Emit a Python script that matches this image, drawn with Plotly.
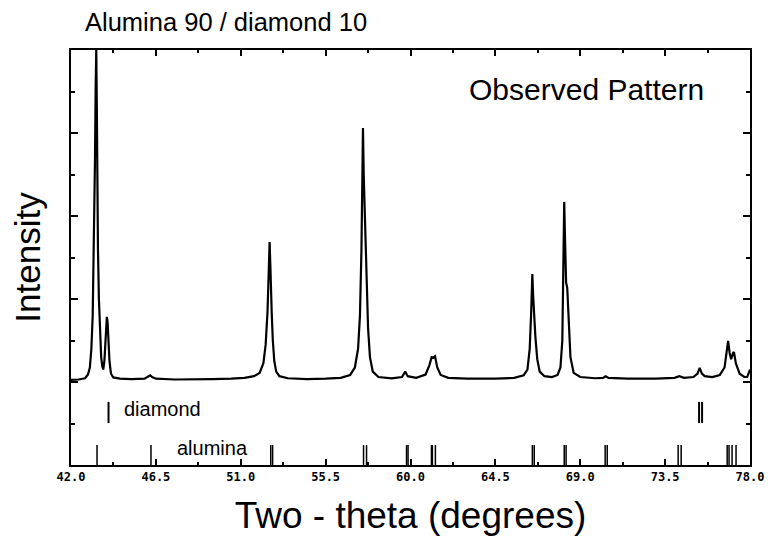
import plotly.graph_objects as go

# Observed XRD profile (2-theta in degrees, intensity in arbitrary units)
two_theta = [42.00, 42.40, 42.75, 42.90, 43.00, 43.08, 43.15, 43.21, 43.27, 43.31, 43.34,
             43.37, 43.39, 43.43, 43.48, 43.54, 43.60, 43.66, 43.71, 43.77, 43.84, 43.90,
             43.94, 43.98, 44.04, 44.12, 44.24, 44.60, 45.20, 45.90, 46.10, 46.20, 46.30,
             46.50, 47.50, 48.50, 49.50, 50.50, 51.20, 51.70, 52.00, 52.20, 52.32, 52.42,
             52.48, 52.53, 52.57, 52.60, 52.64, 52.70, 52.78, 52.88, 53.05, 53.50, 54.50,
             55.50, 56.30, 56.80, 57.05, 57.22, 57.32, 57.40, 57.45, 57.48, 57.52, 57.58,
             57.63, 57.68, 57.75, 57.85, 58.00, 58.30, 59.00, 59.55, 59.72, 59.85, 60.30,
             60.80, 61.00, 61.12, 61.20, 61.30, 61.42, 61.60, 62.00, 63.00, 64.50, 65.50,
             66.00, 66.20, 66.32, 66.40, 66.46, 66.50, 66.55, 66.62, 66.72, 66.85, 67.10,
             67.50, 67.80, 67.95, 68.05, 68.11, 68.15, 68.19, 68.25, 68.31, 68.38, 68.48,
             68.65, 69.00, 69.80, 70.20, 70.35, 70.50, 71.50, 73.00, 74.00, 74.25, 74.50,
             75.00, 75.22, 75.33, 75.45, 75.60, 76.00, 76.40, 76.65, 76.78, 76.84, 76.92,
             77.00, 77.10, 77.15, 77.25, 77.45, 77.70, 77.85, 78.00]
intensity = [2.05, 2.06, 2.09, 2.18, 2.35, 2.80, 3.60, 5.00, 7.30, 9.20, 10.00,
             8.60, 6.60, 5.20, 4.00, 3.10, 2.60, 2.38, 2.30, 2.50, 3.10, 3.57,
             3.45, 3.00, 2.50, 2.20, 2.11, 2.08, 2.07, 2.08, 2.13, 2.16, 2.12,
             2.08, 2.06, 2.06, 2.07, 2.08, 2.10, 2.14, 2.22, 2.45, 2.90, 3.70,
             4.60, 5.37, 4.80, 4.00, 3.70, 3.00, 2.50, 2.25, 2.14, 2.09, 2.07,
             2.08, 2.10, 2.17, 2.35, 2.80, 3.60, 5.20, 7.20, 8.12, 7.00, 5.90,
             5.60, 4.50, 3.30, 2.60, 2.25, 2.12, 2.09, 2.12, 2.25, 2.14, 2.10,
             2.18, 2.40, 2.60, 2.58, 2.62, 2.35, 2.17, 2.10, 2.08, 2.08, 2.10,
             2.16, 2.30, 2.80, 3.70, 4.60, 4.10, 3.55, 3.10, 2.55, 2.25, 2.14,
             2.12, 2.17, 2.35, 3.00, 4.50, 6.34, 5.50, 4.40, 4.27, 3.50, 2.60,
             2.22, 2.12, 2.09, 2.10, 2.14, 2.10, 2.08, 2.08, 2.10, 2.14, 2.10,
             2.12, 2.20, 2.34, 2.20, 2.14, 2.12, 2.17, 2.35, 2.80, 2.99, 2.70,
             2.55, 2.70, 2.72, 2.45, 2.20, 2.12, 2.12, 2.30]

# Reflection positions (2-theta)
diamond_pos = [43.99, 75.30, 75.46]
alumina_pos = [43.38, 46.24, 52.59, 52.69, 57.51, 57.67, 59.79, 59.87, 61.11, 61.16,
               61.32, 66.46, 66.56, 68.15, 68.25, 70.32, 70.43, 74.19, 74.35, 76.79,
               76.89, 77.05, 77.26]
diamond_span = [1.01, 1.52]
alumina_span = [0.0, 0.48]

x_ticks = [42.0, 46.5, 51.0, 55.5, 60.0, 64.5, 69.0, 73.5, 78.0]


def segments(positions, span):
    xs, ys = [], []
    for p in positions:
        xs += [p, p, None]
        ys += [span[0], span[1], None]
    return xs, ys


fig = go.Figure()
fig.add_trace(go.Scatter(x=two_theta, y=intensity, mode="lines",
                         line=dict(color="black", width=2.2), hoverinfo="skip"))
dx, dy = segments(diamond_pos, diamond_span)
fig.add_trace(go.Scatter(x=dx, y=dy, mode="lines", line=dict(color="black", width=2)))
ax, ay = segments(alumina_pos, alumina_span)
fig.add_trace(go.Scatter(x=ax, y=ay, mode="lines", line=dict(color="black", width=1.5)))

font_main = "Liberation Sans, Arial, sans-serif"

fig.update_layout(
    width=771, height=543,
    margin=dict(l=71, r=21, t=50, b=78),
    paper_bgcolor="white", plot_bgcolor="white",
    showlegend=False,
    xaxis=dict(range=[42, 78], tickvals=x_ticks,
               ticktext=[f"<b>{v:.1f}</b>" for v in x_ticks], automargin=False,
               ticks="inside", ticklen=6, tickwidth=1.5, tickcolor="black",
               minor=dict(dtick=2.25, tick0=42, ticks="inside", ticklen=3, tickcolor="black"),
               showline=True, linecolor="black", linewidth=2, mirror="allticks",
               showgrid=False, zeroline=False,
               tickfont=dict(family="DejaVu Sans Mono", size=12, color="black"),
               title=dict(text="Two - theta (degrees)",
                          font=dict(family=font_main, size=37, color="black"),
                          standoff=19)),
    yaxis=dict(range=[0, 10], tickvals=[0, 2, 4, 6, 8, 10], showticklabels=False,
               automargin=False,
               ticks="inside", ticklen=7, tickwidth=1.5, tickcolor="black",
               minor=dict(dtick=1, tick0=0, ticks="inside", ticklen=4, tickcolor="black"),
               showline=True, linecolor="black", linewidth=2, mirror="allticks",
               showgrid=False, zeroline=False,
               title=dict(text="Intensity", font=dict(family=font_main, size=35, color="black"),
                          standoff=18)),
    font=dict(family=font_main, color="black"),
)

fig.add_annotation(text="Alumina 90 / diamond 10", xref="paper", yref="paper",
                   x=0.0177, y=1.0, yshift=28, xanchor="left", yanchor="middle",
                   showarrow=False, font=dict(size=25.5, family=font_main))
fig.add_annotation(text="Observed Pattern", x=63.0, y=9.04, xanchor="left", yanchor="middle",
                   showarrow=False, font=dict(size=30, family=font_main))
fig.add_annotation(text="diamond", x=44.7, y=1.34, xanchor="left", yanchor="middle",
                   showarrow=False, font=dict(size=20, family=font_main))
fig.add_annotation(text="alumina", x=47.5, y=0.42, xanchor="left", yanchor="middle",
                   showarrow=False, font=dict(size=20, family=font_main))

fig.write_html("out.html", config={"displayModeBar": False},
               post_script="document.body.style.margin='0';document.body.style.overflow='hidden';")
